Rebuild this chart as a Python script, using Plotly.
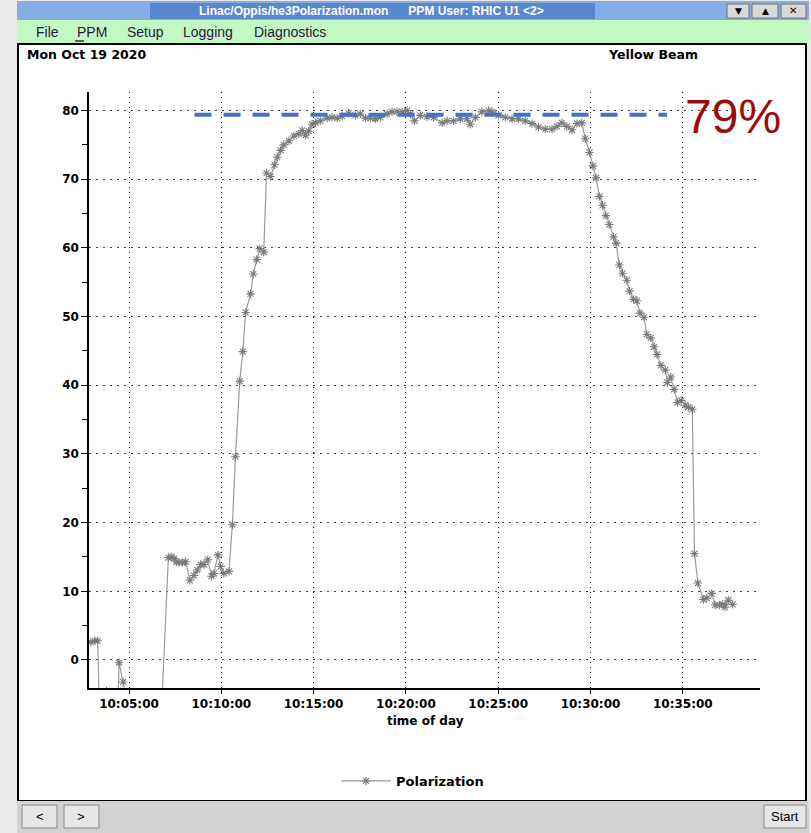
import plotly.graph_objects as go

# ---------------- data ----------------
DAY = "2020-10-19"
TIMES = [
    "10:02:56", "10:03:09", "10:03:18", "10:03:28", "10:03:47", "10:04:18", "10:04:28",
    "10:04:41", "10:04:53", "10:05:38", "10:06:45",
    "10:07:08", "10:07:19", "10:07:26", "10:07:34", "10:07:42", "10:07:53", "10:08:04",
    "10:08:18", "10:08:31", "10:08:42", "10:08:53", "10:09:04", "10:09:16", "10:09:28",
    "10:09:36", "10:09:49", "10:09:58", "10:10:08", "10:10:25",
    "10:10:36", "10:10:46", "10:11:00", "10:11:10", "10:11:19", "10:11:35", "10:11:44",
    "10:11:55", "10:12:05", "10:12:18", "10:12:27", "10:12:40", "10:12:53", "10:13:02",
    "10:13:13", "10:13:23", "10:13:40", "10:13:56", "10:14:12", "10:14:23", "10:14:34",
    "10:14:44", "10:14:55", "10:15:06", "10:15:22", "10:15:44", "10:16:00", "10:16:17",
    "10:16:33", "10:16:54", "10:17:16", "10:17:32", "10:17:49", "10:18:05", "10:18:21",
    "10:18:37", "10:18:59", "10:19:15", "10:19:31", "10:19:48", "10:20:04", "10:20:15",
    "10:20:28", "10:20:47", "10:21:09", "10:21:30", "10:21:58", "10:22:14", "10:22:35",
    "10:22:57", "10:23:19", "10:23:29", "10:23:46", "10:24:07", "10:24:29", "10:24:40",
    "10:25:01", "10:25:23", "10:25:45", "10:26:06", "10:26:28", "10:26:50", "10:27:11",
    "10:27:33", "10:27:55", "10:28:11", "10:28:27", "10:28:43", "10:29:00", "10:29:16",
    "10:29:32", "10:29:43", "10:29:57", "10:30:08", "10:30:18", "10:30:29", "10:30:39",
    "10:30:50", "10:31:01", "10:31:15", "10:31:23", "10:31:34", "10:31:44", "10:31:58",
    "10:32:07", "10:32:20", "10:32:31", "10:32:41", "10:32:54", "10:33:03", "10:33:16",
    "10:33:27", "10:33:36", "10:33:49", "10:34:03", "10:34:10", "10:34:21", "10:34:32",
    "10:34:43", "10:34:55", "10:35:08", "10:35:18", "10:35:31", "10:35:38", "10:35:49",
    "10:36:07", "10:36:18", "10:36:34", "10:36:45", "10:36:59", "10:37:10", "10:37:17",
    "10:37:28", "10:37:42",
]
POLARIZATION = [
    2.6, 2.8, 2.8, -14.0, -4.5, -15.0, -0.4,
    -3.2, -6.0, -10.0, -8.0,
    14.9, 15.0, 14.8, 14.3, 14.2, 14.2, 14.3,
    11.6, 12.3, 13.1, 13.9, 13.9, 14.6, 12.2,
    12.6, 15.3, 13.6, 12.6, 12.9,
    19.7, 29.6, 40.6, 44.9, 50.6, 53.3, 56.2,
    58.3, 59.9, 59.4, 70.9, 70.4, 72.1, 73.2,
    74.2, 75.0, 75.6, 76.3, 76.6, 77.1, 76.4,
    77.0, 78.0, 78.2, 78.5, 78.9, 79.0, 78.9,
    79.2, 79.6, 79.3, 79.5, 78.9, 78.9, 78.8,
    79.0, 79.5, 79.8, 79.85, 79.8, 80.0, 79.5,
    78.5, 79.3, 79.1, 79.0, 78.2, 78.5, 78.5,
    78.8, 78.8, 78.0, 79.0, 79.8, 80.0, 79.8,
    79.3, 79.0, 78.8, 78.8, 78.5, 78.1, 77.6,
    77.3, 77.3, 77.7, 78.2, 77.7, 77.2, 78.1,
    78.2, 75.9, 73.9, 71.9, 70.2, 67.5, 66.2,
    64.7, 63.4, 61.6, 60.7, 57.5, 56.3, 55.3,
    53.7, 52.5, 52.3, 50.5, 49.9, 47.4, 46.9,
    45.6, 44.5, 42.9, 42.2, 40.4, 41.2, 39.4,
    37.5, 37.8, 37.1, 36.8, 36.5, 15.5, 11.2,
    8.8, 9.0, 9.7, 8.0, 8.0, 8.1, 7.7,
    8.7, 8.1,
]
TARGET_TIMES = ["10:08:33", "10:34:09"]
TARGET_LEVEL = 79.4
TARGET_LABEL = "79%"
X_RANGE = ["10:02:50", "10:39:11"]
Y_RANGE = [-4.08, 82.7]
Y_TICKS = [0, 10, 20, 30, 40, 50, 60, 70, 80]
SERIES_NAME = "Polarization"
X_TITLE = "time of day"
DATE_LABEL = "Mon Oct 19 2020"
BEAM_LABEL = "Yellow Beam"
WINDOW_TITLE = "Linac/Oppis/he3Polarization.mon      PPM User: RHIC U1 <2>"
MENU_ITEMS = ["File", "PPM", "Setup", "Logging", "Diagnostics"]

# ---------------- layout geometry (pixels) ----------------
W, H = 811, 833
L, R, T, B = 89, 760, 92, 688
PW, PH = R - L, B - T


def X(px):
    return (px - L) / PW


def Y(py):
    return (B - py) / PH


def ts(t):
    return f"{DAY} {t}"


fig = go.Figure()

fig.add_trace(go.Scatter(
    x=[ts(t) for t in TIMES], y=POLARIZATION, name=SERIES_NAME,
    mode="lines+markers",
    line=dict(color="#9a9a9a", width=1.2),
    marker=dict(symbol="asterisk-open", size=7, color="#7a7a7a",
                line=dict(color="#7a7a7a", width=1.1)),
))
fig.add_trace(go.Scatter(
    x=[ts(t) for t in TARGET_TIMES], y=[TARGET_LEVEL, TARGET_LEVEL],
    mode="lines", showlegend=False, hoverinfo="skip",
    line=dict(color="#4472c4", width=4, dash="17px,12px"),
))

shapes = []


def rect(x0, y0, x1, y1, fill, line_color=None, lw=0, layer="below"):
    shapes.append(dict(type="rect", xref="paper", yref="paper",
                       x0=X(x0), x1=X(x1), y0=Y(y1), y1=Y(y0),
                       fillcolor=fill, layer=layer,
                       line=dict(color=line_color or fill, width=lw)))


# window pieces
rect(17, 1, 809, 20, "#86aee6")            # title bar (stipple tone)
rect(150, 3, 595, 19, "#5a88cf")           # title text area
rect(17, 20, 809, 44, "#c2f8c2")           # menu bar
rect(18, 44, 806, 801, "#ffffff", "#000000", 2)  # chart panel
rect(17, 801, 809, 833, "#d2d2d2")         # bottom bar
# title buttons
for bx0, bx1 in [(727, 749), (752, 778), (781, 806)]:
    rect(bx0, 4, bx1, 18, "#d8d8d8", "#707070", 1)
# bottom buttons
for bx0, bx1 in [(22, 57), (64, 99), (764, 806)]:
    rect(bx0, 805, bx1, 828, "#e6e6e6", "#8a8a8a", 1)
# PPM underline
shapes.append(dict(type="line", xref="paper", yref="paper",
                   x0=X(75), x1=X(84), y0=Y(41), y1=Y(41),
                   line=dict(color="#502060", width=1.5)))

ann = []


def text(px, py, s, size, color="#000", bold=False, family="Liberation Sans",
         anchor="left"):
    ann.append(dict(x=X(px), y=Y(py), xref="paper", yref="paper", text=s,
                    showarrow=False, xanchor=anchor, yanchor="middle",
                    font=dict(family=family, size=size, color=color,
                              weight="bold" if bold else "normal")))


text(371, 11, WINDOW_TITLE.replace(" ", "&nbsp;"), 12, "#ffffff", True, anchor="center")
text(738, 11, "▼", 9, "#000", anchor="center", family="DejaVu Sans")
text(765, 11, "▲", 9, "#000", anchor="center", family="DejaVu Sans")
text(793, 11, "✕", 10, "#000", anchor="center", family="DejaVu Sans")
for s, px in zip(MENU_ITEMS, [34, 75, 125, 181, 252]):
    text(px, 32, s, 14, "#2a1640")
text(25, 55, DATE_LABEL, 12.5, "#000", True, family="DejaVu Sans")
text(606, 55, BEAM_LABEL, 12.5, "#000", True, family="DejaVu Sans")
text(425, 721, X_TITLE, 12, "#000", True, family="DejaVu Sans", anchor="center")
text(733, 116, TARGET_LABEL, 48, "#9b0b0b", anchor="center")
text(40, 816, "&lt;", 13, "#000", anchor="center")
text(81, 816, "&gt;", 13, "#000", anchor="center")
text(785, 816, "Start", 13, "#000", anchor="center")

fig.update_layout(
    width=W, height=H,
    margin=dict(l=L, r=W - R, t=T, b=H - B, pad=0),
    paper_bgcolor="#e9e9e9",
    plot_bgcolor="rgba(0,0,0,0)",
    shapes=shapes, annotations=ann,
    showlegend=True,
    legend=dict(orientation="h", x=X(336), y=Y(781), xanchor="left", yanchor="middle",
                bgcolor="rgba(0,0,0,0)", itemwidth=50,
                font=dict(family="DejaVu Sans", size=13, color="#000", weight="bold")),
    xaxis=dict(
        type="date", range=[ts(t) for t in X_RANGE],
        tick0=ts("10:00:00"), dtick=300000, tickformat="%H:%M:%S",
        showline=True, linecolor="#000", linewidth=1.5,
        ticks="outside", ticklen=4, tickcolor="#000",
        showgrid=True, gridcolor="#000", gridwidth=1, griddash="1px,4px",
        zeroline=False,
        tickfont=dict(family="DejaVu Sans", size=12, color="#000", weight="bold"),
    ),
    yaxis=dict(
        range=Y_RANGE, tickvals=Y_TICKS,
        showline=True, linecolor="#000", linewidth=1.5,
        ticks="outside", ticklen=6, tickcolor="#000",
        minor=dict(ticks="outside", ticklen=5, dtick=5, tick0=0, tickcolor="#000",
                   showgrid=False),
        showgrid=True, gridcolor="#444", gridwidth=1, griddash="2px,5px",
        zeroline=False,
        tickfont=dict(family="DejaVu Sans", size=12, color="#000", weight="bold"),
    ),
)

fig.write_html("out.html")
